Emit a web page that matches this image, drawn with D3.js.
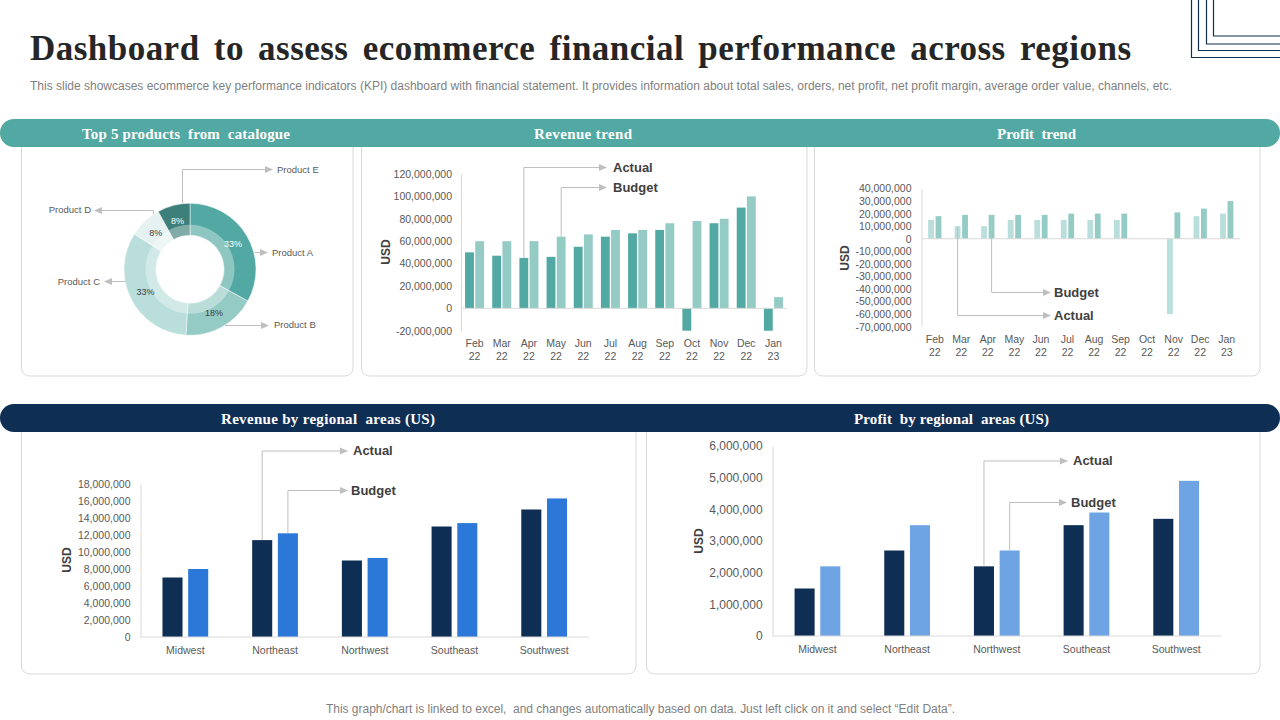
<!DOCTYPE html>
<html>
<head>
<meta charset="utf-8">
<script src="https://cdn.jsdelivr.net/npm/d3@7"></script>
<style>
  html, body { margin: 0; padding: 0; background: #fff; }
  svg { display: block; font-family: "Liberation Sans", Arial, sans-serif; }
</style>
</head>
<body>
<div id="grafico"></div>
<script>
// Data
const months = ["Feb 22", "Mar 22", "Apr 22", "May 22", "Jun 22", "Jul 22", "Aug 22", "Sep 22", "Oct 22", "Nov 22", "Dec 22", "Jan 23"];
const revenueActual = [50e6, 47e6, 45e6, 46e6, 55e6, 64e6, 67e6, 70e6, -20e6, 76e6, 90e6, -20e6];
const revenueBudget = [60e6, 60e6, 60e6, 64e6, 66e6, 70e6, 70e6, 76e6, 78e6, 80e6, 100e6, 10e6];
const revenueTicks = [-20e6, 0, 20e6, 40e6, 60e6, 80e6, 100e6, 120e6];
const profitActual = [15e6, 10e6, 10e6, 15e6, 15e6, 15e6, 15e6, 15e6, 0, -60e6, 18e6, 20e6];
const profitBudget = [18e6, 19e6, 19e6, 19e6, 19e6, 20e6, 20e6, 20e6, 0, 21e6, 24e6, 30e6];
const profitTicks = [-70e6, -60e6, -50e6, -40e6, -30e6, -20e6, -10e6, 0, 10e6, 20e6, 30e6, 40e6];

const regions = ["Midwest", "Northeast", "Northwest", "Southeast", "Southwest"];
const regionRevenueActual = [7e6, 11.4e6, 9e6, 13e6, 15e6];
const regionRevenueBudget = [8e6, 12.2e6, 9.3e6, 13.4e6, 16.3e6];
const regionRevenueTicks = [0, 2e6, 4e6, 6e6, 8e6, 10e6, 12e6, 14e6, 16e6, 18e6];
const regionProfitActual = [1.5e6, 2.7e6, 2.2e6, 3.5e6, 3.7e6];
const regionProfitBudget = [2.2e6, 3.5e6, 2.7e6, 3.9e6, 4.9e6];
const regionProfitTicks = [0, 1e6, 2e6, 3e6, 4e6, 5e6, 6e6];

const products = ["Product A", "Product B", "Product C", "Product D", "Product E"];
const productShare = [33, 18, 33, 8, 8];

const width = 1280;
const height = 720;
const grey = "#bfbfbf";

const svg = d3.select("#grafico").append("svg")
  .attr("width", width)
  .attr("height", height);

svg.append("defs").append("marker")
  .attr("id", "flecha")
  .attr("viewBox", "0 0 8 8")
  .attr("refX", 7).attr("refY", 4)
  .attr("markerUnits", "userSpaceOnUse")
  .attr("markerWidth", 8).attr("markerHeight", 8)
  .attr("orient", "auto")
  .append("path").attr("d", "M0,0.5L8,4L0,7.5Z").attr("fill", grey);

// Title block
function fitText(x, y, txt, len, size, color, family, weight) {
  return svg.append("text")
    .attr("x", x).attr("y", y)
    .attr("textLength", len).attr("lengthAdjust", "spacing")
    .style("font-size", size + "px")
    .style("font-family", family || null)
    .style("font-weight", weight || "normal")
    .style("white-space", "pre")
    .attr("fill", color)
    .text(txt);
}

const serif = '"Liberation Serif", "Times New Roman", serif';
fitText(30, 60, "Dashboard to assess ecommerce financial performance across regions", 1101, 35, "#262626", serif, "bold")
  .style("word-spacing", "5px");
fitText(30, 90, "This slide showcases ecommerce key performance indicators (KPI) dashboard with financial statement. It provides information about total sales, orders, net profit, net profit margin, average order value, channels, etc.", 1142, 12, "#7f7f7f");
fitText(326, 713, "This graph/chart is linked to excel,  and changes automatically based on data. Just left click on it and select \u201CEdit Data\u201D.", 629, 12, "#7f7f7f");

// Corner lines
[[1191.5, 57.5], [1198.5, 50.5], [1206.5, 44], [1213.5, 36]].forEach(c => {
  svg.append("path")
    .attr("d", `M${c[0]},0V${c[1]}H${width}`)
    .attr("fill", "none").attr("stroke", "#12304f").attr("stroke-width", 1.2);
});

// Cards
[[21.5, 353], [361.5, 807], [814.5, 1260]].forEach(c => card(c[0], 125, c[1], 376));
[[21.5, 636], [646.5, 1260]].forEach(c => card(c[0], 420, c[1], 674));

function card(x0, y0, x1, y1) {
  svg.append("rect")
    .attr("x", x0).attr("y", y0)
    .attr("width", x1 - x0).attr("height", y1 - y0)
    .attr("rx", 8)
    .attr("fill", "#fff").attr("stroke", "#d9d9d9");
}

// Header bands
function band(y, color) {
  svg.append("rect")
    .attr("x", 0).attr("y", y)
    .attr("width", width).attr("height", 28)
    .attr("rx", 14)
    .attr("fill", color);
}
band(119, "#52a8a2");
band(404, "#0f2e54");

function heading(x, y, txt, len) {
  fitText(x, y, txt, len, 15, "#fff", serif, "bold");
}
heading(82, 139, "Top 5 products  from  catalogue", 208);
heading(534, 139, "Revenue trend", 98);
heading(997, 139, "Profit  trend", 79);
heading(221, 424, "Revenue by regional  areas (US)", 214);
heading(854, 424, "Profit  by regional  areas (US)", 195);

// Grouped bars
function barChart(o) {
  const g = svg.append("g");
  const x = d3.scaleBand()
    .domain(o.cats)
    .range([o.left, o.right])
    .paddingInner(o.pad).paddingOuter(o.pad / 2);
  const xSub = d3.scaleBand()
    .domain(["Actual", "Budget"])
    .range([0, x.bandwidth()])
    .paddingInner(o.subPad);
  const y = d3.scaleLinear()
    .domain(o.domain)
    .range([o.bottom, o.top]);

  const yAxis = g.append("g")
    .attr("transform", `translate(${o.left},0)`)
    .call(d3.axisLeft(y).tickValues(o.ticks)
      .tickFormat(d => d3.format(",")(d).replace("\u2212", "-"))
      .tickSize(0).tickPadding(o.tickPad));
  yAxis.select(".domain").attr("stroke", "#d9d9d9");
  yAxis.selectAll("text")
    .style("font-size", o.tickSize + "px")
    .style("font-family", '"Liberation Sans", Arial, sans-serif')
    .attr("fill", "#595959");

  [["Actual", o.actual, o.colors[0]], ["Budget", o.budget, o.colors[1]]].forEach(s => {
    g.append("g").selectAll("rect")
      .data(s[1])
      .join("rect")
      .attr("x", (d, i) => x(o.cats[i]) + xSub(s[0]))
      .attr("y", d => y(Math.max(0, d)))
      .attr("width", xSub.bandwidth())
      .attr("height", d => Math.abs(y(d) - y(0)))
      .attr("fill", s[2]);
  });

  // zero line
  g.append("line")
    .attr("x1", o.left).attr("x2", o.right)
    .attr("y1", y(0)).attr("y2", y(0))
    .attr("stroke", "#d9d9d9");

  // category labels
  const xAxis = g.append("g")
    .attr("transform", `translate(0,${o.labelY})`)
    .call(d3.axisBottom(x).tickSize(0).tickPadding(0));
  xAxis.select(".domain").remove();
  xAxis.selectAll("text")
    .style("font-size", o.catSize + "px")
    .style("font-family", '"Liberation Sans", Arial, sans-serif')
    .attr("fill", "#595959")
    .each(function (d) {
      const parts = d.split(" ");
      if (parts.length < 2) return;
      const t = d3.select(this).text(null);
      t.append("tspan").attr("x", 0).attr("dy", 0).text(parts[0]);
      t.append("tspan").attr("x", 0).attr("dy", 13).text(parts[1]);
    });

  // USD title
  g.append("text")
    .attr("transform", `translate(${o.usd[0]},${o.usd[1]}) rotate(-90)`)
    .attr("text-anchor", "middle")
    .style("font-size", "12px").style("font-weight", "bold")
    .attr("fill", "#404040")
    .text("USD");

  // callouts start on the bar they name
  o.callouts.forEach(c => {
    const value = (c.name === "Actual" ? o.actual : o.budget)[o.cats.indexOf(c.cat)];
    const cx = x(c.cat) + xSub(c.name) + xSub.bandwidth() / 2;
    g.append("path")
      .attr("d", `M${cx},${y(value)}V${c.y}H${c.tip}`)
      .attr("fill", "none").attr("stroke", grey)
      .attr("marker-end", "url(#flecha)");
    g.append("text")
      .attr("x", c.labelX).attr("y", c.y + 4)
      .style("font-size", "13px").style("font-weight", "bold")
      .attr("fill", "#404040")
      .text(c.name);
  });
}

barChart({
  cats: months, actual: revenueActual, budget: revenueBudget, ticks: revenueTicks,
  domain: [-20e6, 120e6], left: 461, right: 787, top: 174, bottom: 330.7,
  pad: 0.3, subPad: 0.13, tickPad: 9, tickSize: 10.5, catSize: 10.5, labelY: 347,
  colors: ["#52a8a2", "#95cbc5"], usd: [390, 252],
  callouts: [
    { name: "Actual", cat: "Apr 22", y: 167.5, tip: 606, labelX: 613 },
    { name: "Budget", cat: "May 22", y: 187.5, tip: 606, labelX: 613 }
  ]
});

barChart({
  cats: months, actual: profitActual, budget: profitBudget, ticks: profitTicks,
  domain: [-70e6, 40e6], left: 921.5, right: 1240, top: 188.5, bottom: 326.7,
  pad: 0.5, subPad: 0.22, tickPad: 10, tickSize: 10.5, catSize: 10.5, labelY: 343,
  colors: ["#b9dedb", "#95cbc5"], usd: [849, 258],
  callouts: [
    { name: "Actual", cat: "Mar 22", y: 315.5, tip: 1050, labelX: 1054 },
    { name: "Budget", cat: "Apr 22", y: 292.5, tip: 1050, labelX: 1054 }
  ]
});

barChart({
  cats: regions, actual: regionRevenueActual, budget: regionRevenueBudget, ticks: regionRevenueTicks,
  domain: [0, 18e6], left: 140.5, right: 589, top: 484, bottom: 637,
  pad: 0.49, subPad: 0.22, tickPad: 10, tickSize: 10.5, catSize: 10.5, labelY: 647,
  colors: ["#0f2e54", "#2b78d8"], usd: [71, 560],
  callouts: [
    { name: "Actual", cat: "Northeast", y: 451, tip: 347, labelX: 353 },
    { name: "Budget", cat: "Northeast", y: 490.5, tip: 347, labelX: 351 }
  ]
});

barChart({
  cats: regions, actual: regionProfitActual, budget: regionProfitBudget, ticks: regionProfitTicks,
  domain: [0, 6e6], left: 772.6, right: 1221, top: 446, bottom: 636,
  pad: 0.49, subPad: 0.22, tickPad: 10, tickSize: 12, catSize: 10.5, labelY: 646,
  colors: ["#0f2e54", "#6fa4e4"], usd: [703, 541],
  callouts: [
    { name: "Actual", cat: "Northwest", y: 461, tip: 1067, labelX: 1073 },
    { name: "Budget", cat: "Northwest", y: 502.5, tip: 1066, labelX: 1071 }
  ]
});

// Donut
const cx = 190, cy = 269.3;
const donutColors = ["#52a8a2", "#95cbc5", "#b9dedb", "#e5f2f1", "#3d7f7b"];
const labelColors = ["#fff", "#404040", "#404040", "#404040", "#fff"];
const pie = d3.pie().sort(null)(productShare);
const arc = d3.arc().innerRadius(34).outerRadius(66);
const ring = d3.arc().innerRadius(34).outerRadius(44.5);
const donut = svg.append("g").attr("transform", `translate(${cx},${cy})`);

donut.selectAll("path.slice")
  .data(pie)
  .join("path")
  .attr("class", "slice")
  .attr("d", arc)
  .attr("fill", (d, i) => donutColors[i])
  .attr("stroke", "#fff").attr("stroke-width", 0.5);
donut.selectAll("path.ring")
  .data(pie)
  .join("path")
  .attr("class", "ring")
  .attr("d", ring)
  .attr("fill", "#fff").attr("fill-opacity", 0.35);
donut.selectAll("text")
  .data(pie)
  .join("text")
  .attr("transform", d => `translate(${arc.centroid(d)})`)
  .attr("text-anchor", "middle").attr("dy", "0.35em")
  .style("font-size", "9px")
  .attr("fill", (d, i) => labelColors[i])
  .text(d => d.value + "%");

// leader lines of the donut
const donutLeaders = [
  { d: "M254.5,252.5H267", x: 272, y: 253, anchor: "start" },
  { d: "M225,325.5H268", x: 274, y: 325, anchor: "start" },
  { d: "M126,281.5H105", x: 100, y: 282, anchor: "end" },
  { d: "M153.5,214V210.5H95", x: 91, y: 210, anchor: "end" },
  { d: "M182.5,203V169.5H272", x: 277, y: 170, anchor: "start" }
];
donutLeaders.forEach((l, i) => {
  svg.append("path")
    .attr("d", l.d)
    .attr("fill", "none").attr("stroke", grey)
    .attr("marker-end", "url(#flecha)");
  svg.append("text")
    .attr("x", l.x).attr("y", l.y + 3)
    .attr("text-anchor", l.anchor)
    .style("font-size", "9.5px")
    .attr("fill", "#595959")
    .text(products[i]);
});
</script>
</body>
</html>
